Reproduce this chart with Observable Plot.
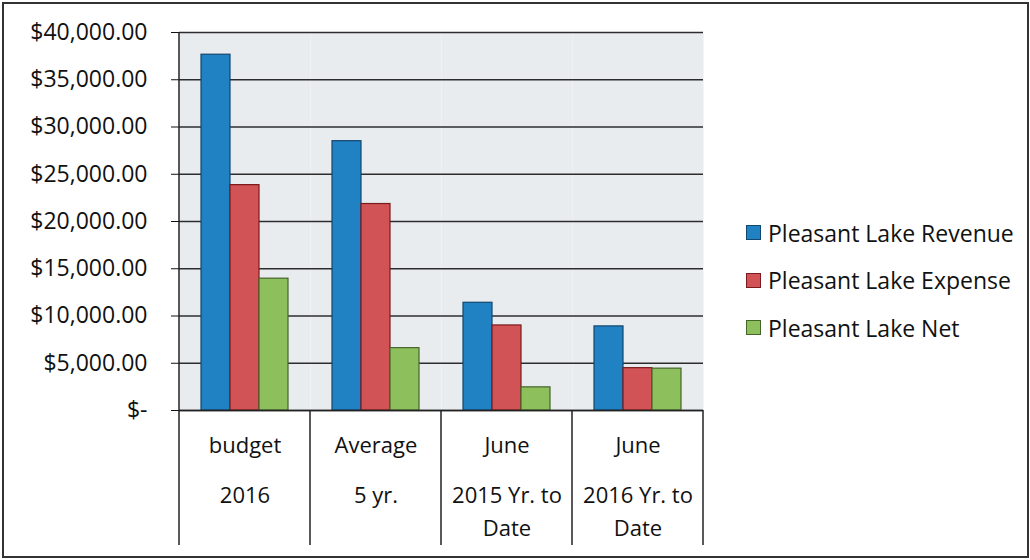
<!DOCTYPE html>
<html>
<head>
<meta charset="utf-8">
<script src="https://cdn.jsdelivr.net/npm/d3@7"></script>
<script src="https://cdn.jsdelivr.net/npm/@observablehq/plot@0.6"></script>
<style>
  html, body { margin: 0; padding: 0; background: #fff; }
  #wrap { position: relative; width: 1030px; height: 560px; overflow: hidden; font-family: "Open Sans", sans-serif; }
  #border { position: absolute; left: 2px; top: 2px; width: 1023px; height: 552px; border: 2px solid #333; pointer-events: none; }
  #legend { position: absolute; left: 746px; top: 209px; font-family: "Open Sans", sans-serif; font-size: 23px; color: #111; }
  #legend .item { display: flex; align-items: center; height: 47.5px; }
  #legend .sw { width: 15px; height: 15px; margin-right: 7px; box-sizing: border-box; border: 1.5px solid #333; }
</style>
</head>
<body>
<div id="wrap">
  <div id="chart"></div>
  <div id="legend"></div>
  <div id="border"></div>
</div>
<script>
const categories = ["budget 2016", "Average 5 yr.", "June 2015 Yr. to Date", "June 2016 Yr. to Date"];
const catLine1 = ["budget", "Average", "June", "June"];
const catLine2 = ["2016", "5 yr.", "2015 Yr. to", "2016 Yr. to"];
const catLine3 = ["", "", "Date", "Date"];
const series = ["Pleasant Lake Revenue", "Pleasant Lake Expense", "Pleasant Lake Net"];
const revenue = [37650, 28500, 11400, 8900];
const expense = [23850, 21850, 9000, 4480];
const net = [13950, 6600, 2450, 4430];
const yTicks = [0, 5000, 10000, 15000, 20000, 25000, 30000, 35000, 40000];
const fills = ["#2081c3", "#d25356", "#8dc05d"];
const strokes = ["#12476e", "#7a1a1c", "#44652a"];

const values = [revenue, expense, net];
const data = [];
series.forEach((s, si) => categories.forEach((c, ci) => data.push({cat: c, series: s, value: values[si][ci]})));

const fmt = d3.format(",.2f");
const plot = Plot.plot({
  width: 1030,
  height: 560,
  marginLeft: 178,
  marginRight: 327,
  marginTop: 32,
  marginBottom: 150,
  style: {fontFamily: "Open Sans, sans-serif", fontSize: "23px", color: "#111", background: "transparent", overflow: "visible"},
  fx: {domain: categories, padding: 0, axis: null, label: null},
  x: {domain: series, paddingInner: 0, paddingOuter: 0.725, axis: null},
  y: {domain: [0, 40000], ticks: yTicks, tickFormat: d => d === 0 ? "$-" : "$" + fmt(d), tickSize: 8, tickPadding: 24, label: null},
  marks: [
    Plot.frame({fill: "#e9ecef", stroke: null}),
    Plot.gridY(yTicks, {stroke: "#222", strokeOpacity: 0.95, strokeWidth: 1.5}),
    ...series.map((s, si) => Plot.barY(data.filter(d => d.series === s), {
      fx: "cat", x: "series", y: "value", fill: fills[si], stroke: strokes[si], strokeWidth: 1.2
    })),
    Plot.ruleY([0], {stroke: "#222", strokeWidth: 1.5}),
    Plot.text(categories, {fx: d => d, text: (d, i) => catLine1[i], frameAnchor: "bottom", dy: 42, fontSize: 22, fill: "#111"}),
    Plot.text(categories, {fx: d => d, text: (d, i) => catLine2[i], frameAnchor: "bottom", dy: 92, fontSize: 22, fill: "#111"}),
    Plot.text(categories, {fx: d => d, text: (d, i) => catLine3[i], frameAnchor: "bottom", dy: 125, fontSize: 22, fill: "#111"})
  ]
});
document.getElementById("chart").appendChild(plot);

// category separators extending below the plot, positioned from the library's scales
const fxs = plot.scale("fx");
const ys = plot.scale("y");
const svg = d3.select(plot);
const y0 = ys.apply(0);
const yTop = ys.apply(40000);
const bounds = categories.map(c => fxs.apply(c));
bounds.push(fxs.apply(categories[categories.length - 1]) + fxs.bandwidth);
bounds.forEach((bx, i) => {
  svg.append("line")
    .attr("x1", bx).attr("x2", bx)
    .attr("y1", i === 0 ? yTop : y0).attr("y2", y0 + 135)
    .attr("stroke", "#222").attr("stroke-width", 1.5);
});

// legend
const leg = d3.select("#legend");
series.forEach((s, i) => {
  const it = leg.append("div").attr("class", "item");
  it.append("div").attr("class", "sw").style("background", fills[i]).style("border-color", strokes[i]);
  it.append("span").text(s);
});
</script>
</body>
</html>
